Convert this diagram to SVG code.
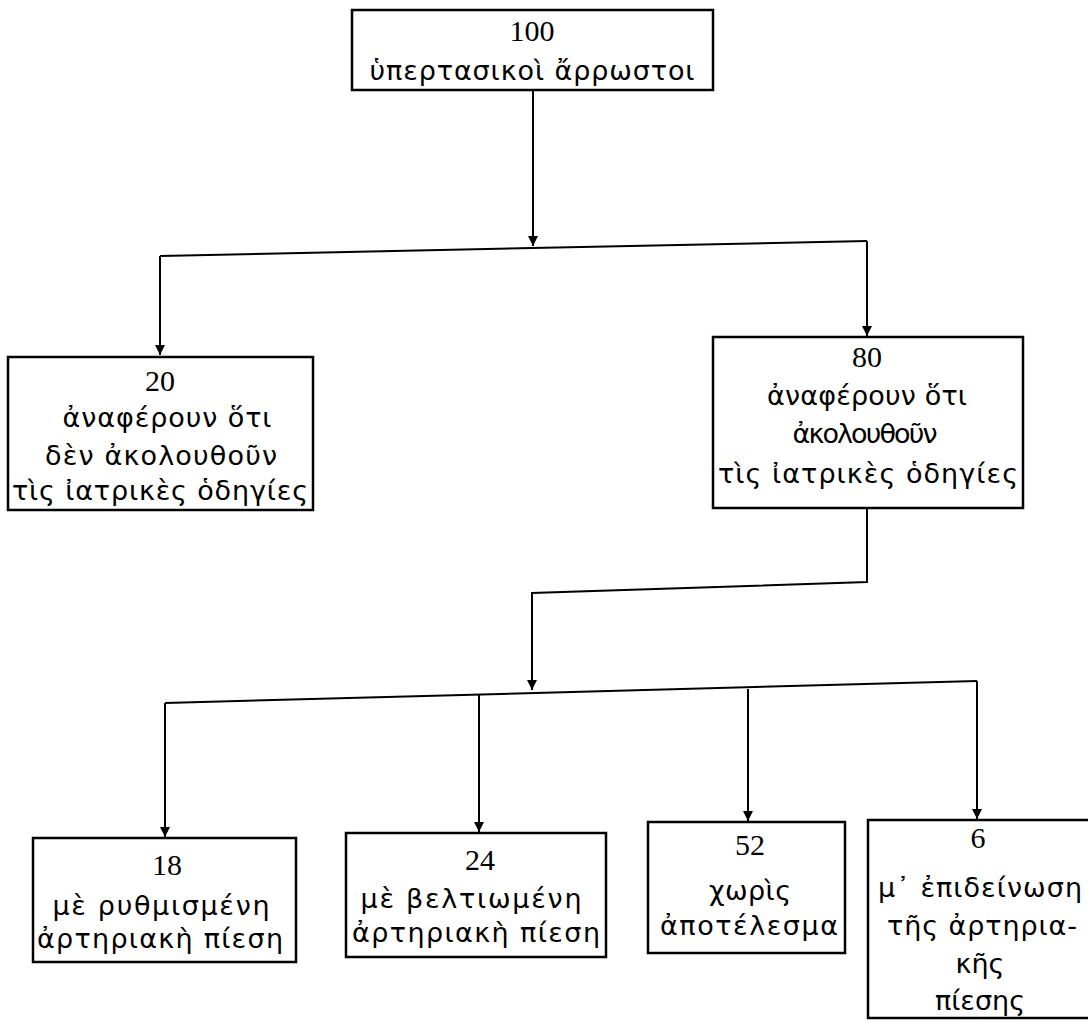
<svg xmlns="http://www.w3.org/2000/svg" width="1088" height="1023" viewBox="0 0 1088 1023">
<defs>
<style>
.box{fill:#fff;stroke:#000;stroke-width:2.5}
.num{font-family:"Liberation Serif",serif;font-size:30px;text-anchor:middle;fill:#000}
.gr{font-family:"DejaVu Sans","Noto Sans",sans-serif;font-size:27px;text-anchor:middle;fill:#000}
.ln{fill:none;stroke:#000;stroke-width:2}
</style>
<marker id="ah" markerUnits="userSpaceOnUse" markerWidth="12" markerHeight="12" refX="10" refY="5" orient="auto">
<path d="M0,0 L10,5 L0,10 Z" fill="#000"/>
</marker>
</defs>
<rect width="1088" height="1023" fill="#fff"/>
<g id="connectors">
<path class="ln" d="M533,91 V246" marker-end="url(#ah)"/>
<path class="ln" d="M160,256 L867,241"/>
<path class="ln" d="M160,256 V355" marker-end="url(#ah)"/>
<path class="ln" d="M867,241 V336" marker-end="url(#ah)"/>
<path class="ln" d="M867,508 V582 L532,593 V690" marker-end="url(#ah)"/>
<path class="ln" d="M165,703 L977,681"/>
<path class="ln" d="M165,703 V837" marker-end="url(#ah)"/>
<path class="ln" d="M479,695 V832" marker-end="url(#ah)"/>
<path class="ln" d="M748,689 V821" marker-end="url(#ah)"/>
<path class="ln" d="M977,681 V819" marker-end="url(#ah)"/>
</g>
<g id="n100">
<rect class="box" x="352" y="10" width="361" height="80"/>
<text class="num" x="532" y="41">100</text>
<text class="gr" x="532" y="80" textLength="325" lengthAdjust="spacing">ὑπερτασικοὶ ἄρρωστοι</text>
</g>
<g id="n20">
<rect class="box" x="8" y="357" width="305" height="153"/>
<text class="num" x="160" y="391">20</text>
<text class="gr" x="167" y="427" textLength="209" lengthAdjust="spacing">ἀναφέρουν ὅτι</text>
<text class="gr" x="161" y="465" textLength="232" lengthAdjust="spacing">δὲν ἀκολουθοῦν</text>
<text class="gr" x="160" y="500" textLength="296" lengthAdjust="spacing">τὶς ἰατρικὲς ὁδηγίες</text>
</g>
<g id="n80">
<rect class="box" x="713" y="337" width="310" height="171"/>
<text class="num" x="867" y="367">80</text>
<text class="gr" x="867" y="405" textLength="200" lengthAdjust="spacing">ἀναφέρουν ὅτι</text>
<text class="gr" x="865" y="443" textLength="145" lengthAdjust="spacing">ἀκολουθοῦν</text>
<text class="gr" x="868" y="483" textLength="300" lengthAdjust="spacing">τὶς ἰατρικὲς ὁδηγίες</text>
</g>
<g id="n18">
<rect class="box" x="33" y="838" width="263" height="124"/>
<text class="num" x="167" y="875">18</text>
<text class="gr" x="161" y="915" textLength="217" lengthAdjust="spacing">μὲ ρυθμισμένη</text>
<text class="gr" x="160" y="948" textLength="246" lengthAdjust="spacing">ἀρτηριακὴ πίεση</text>
</g>
<g id="n24">
<rect class="box" x="346" y="833" width="260" height="124"/>
<text class="num" x="480" y="870">24</text>
<text class="gr" x="471" y="908" textLength="221" lengthAdjust="spacing">μὲ βελτιωμένη</text>
<text class="gr" x="476" y="942" textLength="248" lengthAdjust="spacing">ἀρτηριακὴ πίεση</text>
</g>
<g id="n52">
<rect class="box" x="648" y="822" width="197" height="131"/>
<text class="num" x="750" y="855">52</text>
<text class="gr" x="750" y="900" textLength="82" lengthAdjust="spacing">χωρὶς</text>
<text class="gr" x="749" y="935" textLength="178" lengthAdjust="spacing">ἀποτέλεσμα</text>
</g>
<g id="n6">
<rect class="box" x="868" y="820" width="230" height="198"/>
<text class="num" x="978" y="848">6</text>
<text class="gr" x="980" y="897" textLength="204" lengthAdjust="spacing">μ᾽ ἐπιδείνωση</text>
<text class="gr" x="982" y="935" textLength="190" lengthAdjust="spacing">τῆς ἀρτηρια-</text>
<text class="gr" x="980" y="973">κῆς</text>
<text class="gr" x="980" y="1010">πίεσης</text>
</g>
</svg>
